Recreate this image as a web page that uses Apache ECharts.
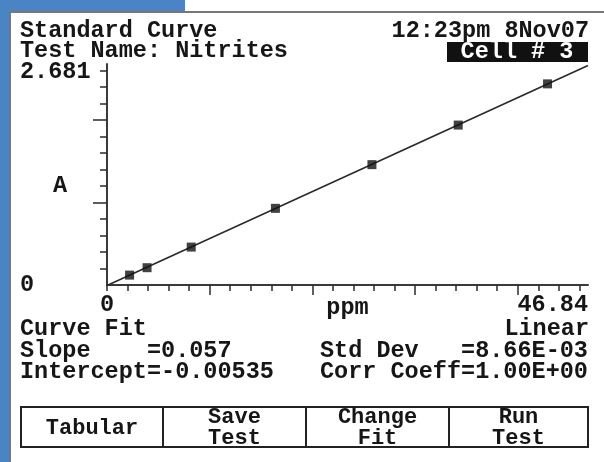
<!DOCTYPE html>
<html><head><meta charset="utf-8">
<script src="https://cdn.jsdelivr.net/npm/echarts@6/dist/echarts.min.js"></script>
<style>html,body{margin:0;padding:0;background:#fff}#c{width:604px;height:462px}</style>
</head><body><div id="c"></div>
<script>
// ---- data ----
const ppm = [2.2, 3.9, 8.2, 16.4, 25.8, 34.2, 42.9];
const absorbance = [0.12, 0.21, 0.46, 0.93, 1.46, 1.94, 2.44];
const fitX = [0, 46.84];
const fitY = [-0.005, 2.664];
const xMax = 46.84;
const yMax = 2.681;
const xMinorTicks = [0, 2, 4, 6, 8, 10, 12, 14, 16, 18, 20, 22, 24, 26, 28, 30, 32, 34, 36, 38, 40, 42, 44, 46];
const xMajorTicks = [10, 20, 30, 40];
const yMinorTicks = [0.2, 0.4, 0.6, 0.8, 1.0, 1.2, 1.4, 1.6, 1.8, 2.0, 2.2, 2.4, 2.6];
const yMajorTicks = [1, 2];
const xTickLabels = [0, 46.84];
const yTickLabels = [0, 2.681];
const xName = 'ppm';
const yName = 'A';
const headerLeft = ['Standard Curve', 'Test Name: Nitrites'];
const headerRight = '12:23pm 8Nov07';
const cellLabel = 'Cell # 3';
const fitLeft = ['Curve Fit', 'Slope    =0.057', 'Intercept=-0.00535'];
const fitRight = ['Linear', 'Std Dev   =8.66E-03', 'Corr Coeff=1.00E+00'];
const buttons = [['Tabular'], ['Save', 'Test'], ['Change', 'Fit'], ['Run', 'Test']];

// ---- styling ----
const INK = '#161616';
const FONT = '"Liberation Mono", "DejaVu Sans Mono", monospace';
const F = 'bold 23.5px ' + FONT;
const FB = 'bold 22px ' + FONT;

const chart = echarts.init(document.getElementById('c'), null, {renderer: 'canvas'});

function txt(text, x, y, align, fill, font) {
  return {type: 'text', z: 10, style: {text: text, x: x, y: y, font: font || F, fill: fill || INK,
    align: align, textAlign: align, verticalAlign: 'middle', textVerticalAlign: 'middle'}};
}

const graphics = [];
// screen frame
graphics.push({type: 'rect', z: 1, shape: {x: 0, y: 0, width: 9, height: 462}, style: {fill: '#4b84c4'}});
graphics.push({type: 'rect', z: 1, shape: {x: 0, y: 0, width: 185, height: 11}, style: {fill: '#4b84c4'}});
graphics.push({type: 'rect', z: 1, shape: {x: 9, y: 11, width: 595, height: 2}, style: {fill: '#777'}});
graphics.push({type: 'rect', z: 1, shape: {x: 9, y: 11, width: 2, height: 451}, style: {fill: '#777'}});
// header
graphics.push(txt(headerLeft[0], 20, 31, 'left'));
graphics.push(txt(headerLeft[1], 20, 51, 'left'));
graphics.push(txt(headerRight, 589, 31, 'right'));
graphics.push({type: 'rect', z: 9, shape: {x: 447, y: 42, width: 141, height: 20}, style: {fill: '#111'}});
graphics.push(txt(cellLabel, 517, 52, 'center', '#fff'));
// fit info
const rowsY = [329, 351, 372];
fitLeft.forEach((t, i) => graphics.push(txt(t, 20, rowsY[i], 'left')));
graphics.push(txt(fitRight[0], 589, rowsY[0], 'right'));
graphics.push(txt(fitRight[1], 320, rowsY[1], 'left'));
graphics.push(txt(fitRight[2], 320, rowsY[2], 'left'));
// buttons
const bx = [21, 163, 306, 449, 588];
graphics.push({type: 'rect', z: 5, shape: {x: bx[0], y: 407, width: bx[4] - bx[0], height: 40},
  style: {fill: 'none', stroke: '#222', lineWidth: 2}});
for (let i = 1; i < 4; i++) {
  graphics.push({type: 'line', z: 5, shape: {x1: bx[i], y1: 407, x2: bx[i], y2: 447}, style: {stroke: '#222', lineWidth: 2}});
}
buttons.forEach((b, i) => {
  const cx = (bx[i] + bx[i + 1]) / 2;
  if (b.length === 1) graphics.push(txt(b[0], cx, 428, 'center', INK, FB));
  else { graphics.push(txt(b[0], cx, 417, 'center', INK, FB)); graphics.push(txt(b[1], cx, 438, 'center', INK, FB)); }
});

const axisLineStyle = {color: '#3a3a3a', width: 2};
const tickStyle = {color: '#2a2a2a', width: 1.5};

chart.setOption({
  animation: false,
  backgroundColor: '#fff',
  grid: {left: 107, right: 16, top: 64, bottom: 177, containLabel: false},
  xAxis: [
    {type: 'value', min: 0, max: xMax, position: 'bottom',
      axisLine: {show: true, onZero: false, lineStyle: axisLineStyle},
      axisTick: {show: true, inside: false, length: 6, customValues: xMinorTicks, lineStyle: tickStyle},
      axisLabel: {show: true, customValues: xTickLabels, margin: 8, color: INK,
        fontFamily: FONT, fontWeight: 'bold', fontSize: 23.5, alignMaxLabel: 'right',
        formatter: v => (v === 0 ? '0' : String(v))},
      splitLine: {show: false},
      name: xName, nameLocation: 'middle', nameGap: 11, nameMoveOverlap: false,
      nameTextStyle: {color: INK, fontFamily: FONT, fontWeight: 'bold', fontSize: 23.5}},
    {type: 'value', min: 0, max: xMax, position: 'bottom',
      axisLine: {show: false},
      axisTick: {show: true, inside: false, length: 10, customValues: xMajorTicks, lineStyle: tickStyle},
      axisLabel: {show: false}, splitLine: {show: false}}
  ],
  yAxis: [
    {type: 'value', min: 0, max: yMax, position: 'left',
      axisLine: {show: true, onZero: false, lineStyle: axisLineStyle},
      axisTick: {show: true, inside: false, length: 7, customValues: yMinorTicks, lineStyle: tickStyle},
      axisLabel: {show: true, customValues: yTickLabels, margin: 87, align: 'left', color: INK,
        fontFamily: FONT, fontWeight: 'bold', fontSize: 23.5,
        formatter: v => (v === 0 ? '0' : '{top|' + v + '}'),
        rich: {top: {padding: [16, 0, 0, 0], fontFamily: FONT, fontWeight: 'bold', fontSize: 23.5, color: INK}}},
      splitLine: {show: false},
      name: yName, nameLocation: 'middle', nameGap: 40, nameRotate: 0, nameMoveOverlap: false,
      nameTextStyle: {color: INK, fontFamily: FONT, fontWeight: 'bold', fontSize: 23.5, verticalAlign: 'top'}},
    {type: 'value', min: 0, max: yMax, position: 'left',
      axisLine: {show: false},
      axisTick: {show: true, inside: false, length: 14, customValues: yMajorTicks, lineStyle: tickStyle},
      axisLabel: {show: false}, splitLine: {show: false}}
  ],
  series: [
    {type: 'line', xAxisIndex: 0, yAxisIndex: 0, data: fitX.map((x, i) => [x, fitY[i]]),
      symbol: 'none', lineStyle: {color: '#2a2a2a', width: 1.6}, silent: true, z: 2, clip: false},
    {type: 'scatter', xAxisIndex: 0, yAxisIndex: 0, data: ppm.map((x, i) => [x, absorbance[i]]),
      symbol: 'rect', symbolSize: 9, itemStyle: {color: '#111'}, z: 3}
  ],
  graphic: graphics
});
</script></body></html>
